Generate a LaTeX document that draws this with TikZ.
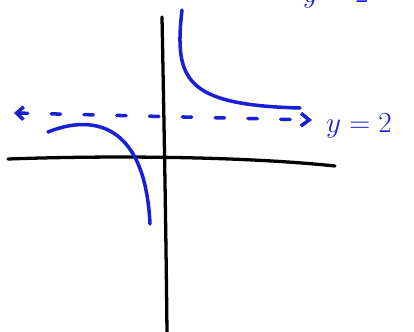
\documentclass[tikz,border=0pt]{standalone}
\usepackage{tikz}
\usetikzlibrary{arrows.meta}
\definecolor{inkblue}{RGB}{25,30,215}
\tikzset{
    axisline/.style={line width=2.8pt, line cap=round},
    inkline/.style={inkblue, line width=3pt, line cap=round},
    inktext/.style={inkblue, inner sep=0pt, font=\fontsize{28}{30}\selectfont}
}

\begin{document}
\begin{tikzpicture}[x=0.03cm, y=-0.03cm]
        \useasboundingbox (0, 0) rectangle (414, 331);
        \clip (0, 0) rectangle (414, 331);

        \coordinate (xl) at (8, 159);
        \coordinate (xr) at (335, 166);
        \coordinate (yt) at (162, 17);
        \coordinate (yb) at (167, 334);
        \coordinate (al) at (14, 113);
        \coordinate (ar) at (312, 120);

        % axes
        \draw[axisline] (xl) .. controls (120, 155) and (250, 157) .. (xr);
        \draw[axisline] (yt) .. controls (164, 120) and (166, 230) .. (yb);

        % asymptote y=2
        \draw[inkline, dash pattern=on 8pt off 20pt,
              {Straight Barb[length=6pt, width=11pt]}-{Straight Barb[length=7pt, width=11pt]}] (al) -- (ar);
        \node[inktext, anchor=base west] (asym) at (326, 132) {$y=2$};

        % branches
        \draw[inkline] (182, 10) .. controls (174, 80) and (185, 105) .. (300, 108);
        \draw[inkline] (48, 132) .. controls (90, 115) and (145, 120) .. (150, 224);

        % cut-off heading
        \node[inktext, anchor=base west] (head) at (303, 2) {$y=2$};
\end{tikzpicture}
\end{document}
